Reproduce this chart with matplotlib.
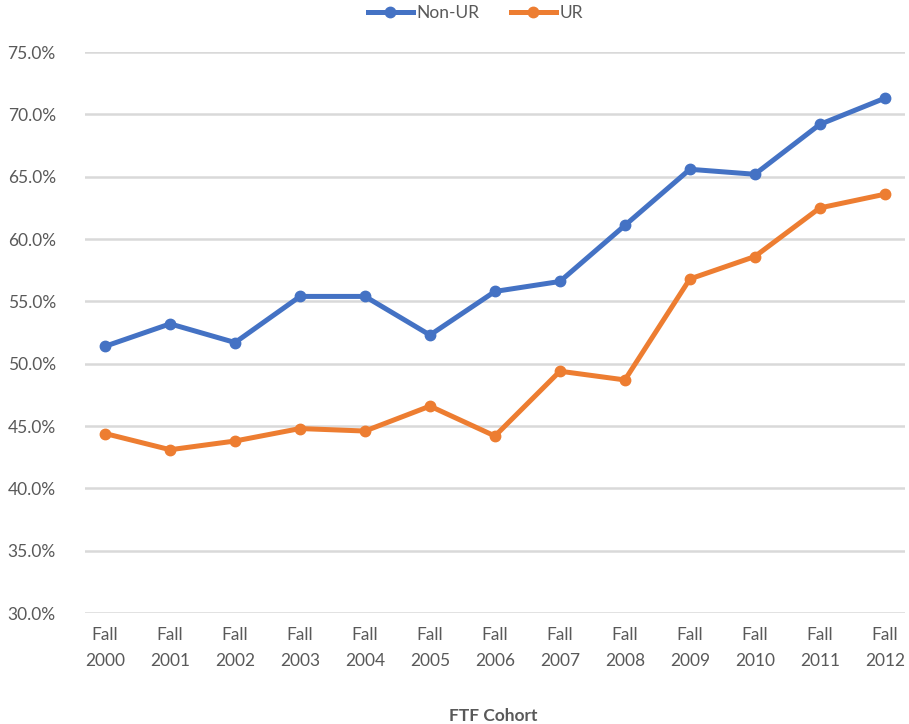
import matplotlib.pyplot as plt
from matplotlib.ticker import FuncFormatter

years = ['2000', '2001', '2002', '2003', '2004', '2005', '2006',
         '2007', '2008', '2009', '2010', '2011', '2012']
non_ur = [51.4, 53.2, 51.7, 55.4, 55.4, 52.3, 55.8, 56.6, 61.1, 65.6, 65.2, 69.2, 71.3]
ur = [44.4, 43.1, 43.8, 44.8, 44.6, 46.6, 44.2, 49.4, 48.7, 56.8, 58.6, 62.5, 63.6]
tick_labels = [f'Fall\n{y}' for y in years]

plt.rcParams['font.family'] = ['Lato', 'DejaVu Sans']
text_color = '#595959'

fig = plt.figure(figsize=(9.09, 7.24), dpi=100)
ax = fig.add_axes([0.0935, 0.1533, 0.902, 0.7747])

x = list(range(len(years)))
ax.plot(x, non_ur, color='#4472C4', lw=3.6, marker='o', ms=7.5, label='Non-UR', zorder=3)
ax.plot(x, ur, color='#ED7D31', lw=3.6, marker='o', ms=7.5, label='UR', zorder=3)

ax.set_ylim(30, 75)
ax.set_yticks(range(30, 80, 5))
ax.yaxis.set_major_formatter(FuncFormatter(lambda v, _: f'{v:.1f}%'))
ax.set_xlim(-0.31, 12.31)
ax.set_xticks(x)
ax.set_xticklabels(tick_labels, linespacing=1.8)

ax.grid(axis='y', color='#d9d9d9', lw=1.8)
ax.set_axisbelow(True)
for s in ax.spines.values():
    s.set_visible(False)
ax.tick_params(length=0, labelsize=12.5, colors=text_color, pad=10)
ax.tick_params(axis='y', pad=21)

fig.text(0.543, 0.011, 'FTF Cohort', ha='center', va='center',
         fontsize=12.5, fontweight='bold', color=text_color)
fig.legend(loc='upper center', bbox_to_anchor=(0.523, 1.014), ncol=2, frameon=False,
           fontsize=12.5, labelcolor=text_color, handlelength=2.6, columnspacing=1.8,
           handletextpad=0.2)

fig.savefig('out.png', dpi=100, facecolor='white')
